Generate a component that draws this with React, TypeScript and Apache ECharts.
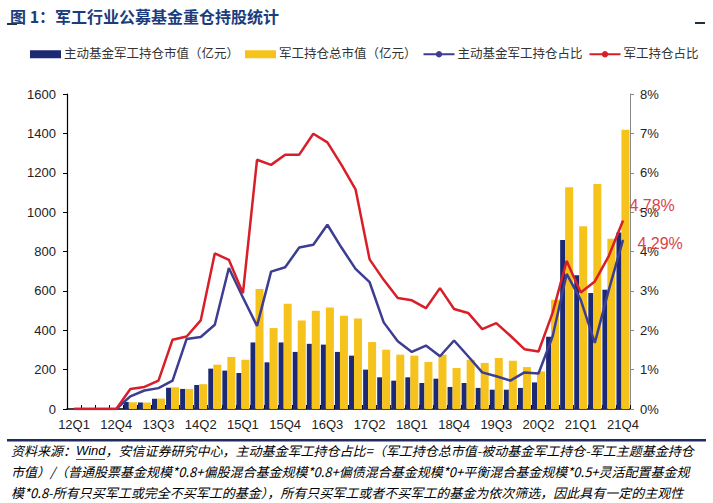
import React, { useEffect, useRef } from "react";
import * as echarts from "echarts";

const categories = [
  "12Q1", "12Q2", "12Q3", "12Q4", "13Q1", "13Q2", "13Q3", "13Q4",
  "14Q1", "14Q2", "14Q3", "14Q4", "15Q1", "15Q2", "15Q3", "15Q4",
  "16Q1", "16Q2", "16Q3", "16Q4", "17Q1", "17Q2", "17Q3", "17Q4",
  "18Q1", "18Q2", "18Q3", "18Q4", "19Q1", "19Q2", "19Q3", "19Q4",
  "20Q1", "20Q2", "20Q3", "20Q4", "21Q1", "21Q2", "21Q3", "21Q4",
];

// 主动基金军工持仓市值（亿元）
const activeValue = [
  0, 0, 0, 0, 36, 33, 52, 108, 102, 122, 205, 195, 183, 338, 237, 338,
  290, 331, 327, 290, 271, 200, 161, 144, 161, 132, 154, 112, 132, 107,
  98, 98, 107, 135, 367, 858, 679, 589, 606, 897,
];

// 军工持仓总市值（亿元）
const totalValue = [
  0, 0, 0, 0, 34, 33, 53, 110, 102, 126, 225, 264, 250, 610, 411, 535,
  449, 499, 516, 474, 460, 340, 301, 276, 271, 239, 276, 208, 250, 234,
  259, 245, 213, 191, 555, 1126, 928, 1143, 865, 1419,
];

// 主动基金军工持仓占比 (%)
const activeRatio = [
  0, 0, 0, 0, 0.32, 0.47, 0.53, 0.72, 1.78, 1.83, 2.14, 3.58, 2.83, 2.11,
  3.49, 3.6, 4.1, 4.17, 4.68, 4.1, 3.56, 3.22, 2.2, 1.72, 1.45, 1.61, 1.34,
  1.74, 1.34, 0.93, 0.83, 0.72, 0.93, 0.9, 1.84, 3.43, 2.77, 1.68, 3.03, 4.29,
];

// 军工持仓占比 (%)
const totalRatio = [
  0, 0, 0, 0, 0.51, 0.56, 0.72, 1.76, 1.84, 2.25, 3.95, 3.79, 2.94, 6.33,
  6.2, 6.46, 6.46, 6.99, 6.77, 6.2, 5.58, 3.8, 3.28, 2.82, 2.76, 2.56, 3.07,
  2.54, 2.44, 2.03, 2.18, 1.86, 1.52, 1.46, 2.44, 3.76, 2.96, 3.24, 3.89, 4.78,
];

const leftTicks = { min: 0, max: 1600, interval: 200 };
const rightTicks = { min: 0, max: 8, interval: 1 };

const seriesNames = [
  "主动基金军工持仓市值（亿元）",
  "军工持仓总市值（亿元）",
  "主动基金军工持仓占比",
  "军工持仓占比",
];

const titleText = "图 1：军工行业公募基金重仓持股统计";
const noteLines = [
  "资料来源：Wind，安信证券研究中心，主动基金军工持仓占比=（军工持仓总市值-被动基金军工持仓-军工主题基金持仓",
  "市值）/（普通股票基金规模*0.8+偏股混合基金规模*0.8+偏债混合基金规模*0+平衡混合基金规模*0.5+灵活配置基金规",
  "模*0.8-所有只买军工或完全不买军工的基金），所有只买军工或者不买军工的基金为依次筛选，因此具有一定的主观性",
];

const FONT = "'Liberation Sans', Arial, 'Noto Sans CJK SC', sans-serif";
const NAVY = "#1b2a72";
const GOLD = "#f6c21c";
const RED = "#d81e28";
const INDIGO = "#3d3d92";
const LABEL_RED = "#d9444c";

function lastLabel(arr: number[], offset: number[], color: string) {
  return arr.map((v, i) =>
    i === arr.length - 1
      ? {
          value: v,
          symbol: "circle",
          symbolSize: 1,
          itemStyle: { color },
          label: {
            show: true,
            position: "right",
            distance: 5,
            offset,
            formatter: "{c}%",
            color: LABEL_RED,
            opacity: 1,
            fontSize: 16,
            fontFamily: FONT,
          },
        }
      : v
  );
}

export default function App() {
  const ref = useRef<HTMLDivElement>(null);

  useEffect(() => {
    if (!ref.current) return;
    const chart = echarts.init(ref.current, undefined, { renderer: "svg" });
    const noteRich = noteLines.map((t, i) => {
      if (i === 0) {
        const parts = t.split("Wind");
        return `{a|${parts[0]}}{w|Wind}{a|${parts[1]}}`;
      }
      return `{a|${t}}`;
    });
    const richStyle = {
      a: {
        fontSize: 13,
        fontStyle: "italic",
        color: "#4b5d90",
        fontFamily: "'Noto Sans CJK SC', sans-serif",
      },
      w: {
        fontSize: 13,
        fontStyle: "italic",
        color: "#2a5aa8",
        fontFamily: FONT,
      },
    };
    chart.setOption({
      animation: false,
      backgroundColor: "#ffffff",
      textStyle: { fontFamily: FONT },
      title: {
        text: titleText,
        left: 5,
        top: 3,
        textStyle: {
          fontSize: 16,
          fontWeight: "bold",
          color: "#1c3c7c",
          fontFamily: "'Noto Sans CJK SC', sans-serif",
        },
      },
      legend: {
        left: 25,
        top: 43,
        itemGap: 6,
        itemWidth: 31,
        itemHeight: 8,
        textStyle: { fontSize: 12.5, color: "#333", fontFamily: FONT, padding: [0, 0, 0, -2] },
        data: [
          { name: seriesNames[0], icon: "rect" },
          { name: seriesNames[1], icon: "rect" },
          { name: seriesNames[2] },
          { name: seriesNames[3] },
        ],
      },
      grid: { left: 67, right: 83, top: 94, bottom: 94, containLabel: false },
      xAxis: {
        type: "category",
        data: categories,
        boundaryGap: true,
        axisLine: { show: true, lineStyle: { color: "#000", width: 1.5 } },
        axisTick: {
          show: true,
          inside: true,
          length: 4,
          interval: 0,
          lineStyle: { color: "#000" },
        },
        axisLabel: {
          interval: 2,
          fontSize: 13,
          color: "#222",
          margin: 9,
          fontFamily: FONT,
        },
      },
      yAxis: [
        {
          type: "value",
          min: leftTicks.min,
          max: leftTicks.max,
          interval: leftTicks.interval,
          splitLine: { show: false },
          axisLine: { show: true, lineStyle: { color: "#000", width: 1.2 } },
          axisTick: { show: true, length: 4, lineStyle: { color: "#000" } },
          axisLabel: {
            fontSize: 13,
            color: "#222",
            margin: 11,
            fontFamily: FONT,
            formatter: (v: number) => String(v),
          },
        },
        {
          type: "value",
          position: "right",
          min: rightTicks.min,
          max: rightTicks.max,
          interval: rightTicks.interval,
          splitLine: { show: false },
          axisLine: { show: true, lineStyle: { color: "#8a8a8a", width: 1 } },
          axisTick: { show: true, length: 4, lineStyle: { color: "#8a8a8a" } },
          axisLabel: {
            fontSize: 13,
            color: "#222",
            margin: 10,
            fontFamily: FONT,
            formatter: "{value}%",
          },
        },
      ],
      series: [
        {
          name: seriesNames[0],
          type: "bar",
          data: activeValue,
          barWidth: 5,
          barGap: "0%",
          itemStyle: { color: NAVY },
        },
        {
          name: seriesNames[1],
          type: "bar",
          data: totalValue,
          barWidth: 8,
          barGap: "0%",
          itemStyle: { color: GOLD },
        },
        {
          name: seriesNames[2],
          type: "line",
          yAxisIndex: 1,
          data: lastLabel(activeRatio, [9, 3], INDIGO),
          symbol: "none",
          lineStyle: { color: INDIGO, width: 2.5 },
          itemStyle: { color: INDIGO },
          z: 3,
        },
        {
          name: seriesNames[3],
          type: "line",
          yAxisIndex: 1,
          data: lastLabel(totalRatio, [1, -15], RED),
          symbol: "none",
          lineStyle: { color: RED, width: 2.5 },
          itemStyle: { color: RED },
          z: 4,
        },
      ],
      graphic: [
        { type: "rect", left: 7, top: 23, shape: { width: 10, height: 2 }, style: { fill: "#22303c" } },
        { type: "rect", left: 695, top: 22, shape: { width: 10, height: 2 }, style: { fill: "#22303c" } },
        { type: "rect", left: 7, top: 439, shape: { width: 699, height: 2.5 }, style: { fill: "#1f2c62" } },
        ...noteRich.map((t, i) => ({
          type: "text",
          left: 11,
          top: 444 + i * 21,
          style: { text: t, rich: richStyle },
        })),
        { type: "rect", left: 76, top: 459, shape: { width: 29, height: 1 }, style: { fill: "#2a5aa8" } },
      ],
    });
    return () => chart.dispose();
  }, []);

  return (
    <div
      ref={ref}
      style={{ position: "fixed", left: 0, top: 0, width: 713, height: 503 }}
    />
  );
}
